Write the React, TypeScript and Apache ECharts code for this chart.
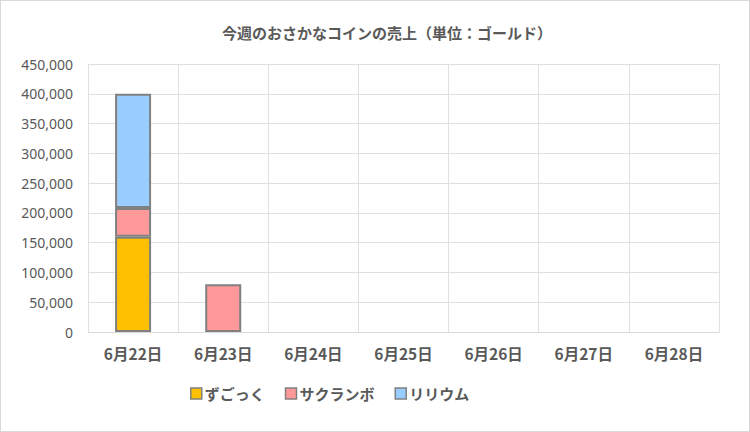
import React, { useEffect, useRef } from "react";
import * as echarts from "echarts";

const categories = ["6月22日", "6月23日", "6月24日", "6月25日", "6月26日", "6月27日", "6月28日"];
const zugokku = [160000, null, null, null, null, null, null];
const sakuranbo = [48000, 80000, null, null, null, null, null];
const ririumu = [192000, null, null, null, null, null, null];
const seriesNames = ["ずごっく", "サクランボ", "リリウム"];
const seriesColors = ["#FFC000", "#FF9999", "#99CCFF"];
const titleText = "今週のおさかなコインの売上（単位：ゴールド）";

const FONT = "'Noto Sans CJK JP', 'Noto Sans', sans-serif";

export default function App() {
  const ref = useRef<HTMLDivElement>(null);
  useEffect(() => {
    if (!ref.current) return;
    const chart = echarts.init(ref.current, null, { renderer: "svg" });
    const datas = [zugokku, sakuranbo, ririumu];
    chart.setOption({
      animation: false,
      backgroundColor: "#ffffff",
      title: {
        text: titleText,
        left: 216,
        top: 19,
        textStyle: { fontFamily: FONT, fontSize: 15, fontWeight: "bold", color: "#595959" },
      },
      legend: {
        left: 184,
        top: 380,
        itemWidth: 11,
        itemHeight: 11,
        itemGap: 20,
        icon: "rect",
        data: seriesNames,
        itemStyle: { borderColor: "#808080", borderWidth: 1.5 },
        textStyle: { fontFamily: FONT, fontSize: 15, fontWeight: "bold", color: "#595959", padding: [0, 0, 0, -2] },
      },
      grid: { left: 87, right: 30, top: 63, bottom: 99 },
      xAxis: {
        type: "category",
        data: categories,
        axisLine: { show: true, lineStyle: { color: "#d9d9d9" } },
        axisTick: { show: false },
        splitLine: { show: true, lineStyle: { color: "#e0e0e0" } },
        axisLabel: { fontFamily: FONT, fontSize: 15.5, fontWeight: "bold", color: "#595959", margin: 13 },
      },
      yAxis: {
        type: "value",
        min: 0,
        max: 450000,
        interval: 50000,
        axisLine: { show: false },
        axisTick: { show: false },
        splitLine: { lineStyle: { color: "#e0e0e0" } },
        axisLabel: {
          fontFamily: "'Noto Sans', sans-serif",
          fontSize: 14,
          color: "#595959",
          margin: 15,
          formatter: (v: number) => v.toLocaleString("en-US"),
        },
      },
      series: seriesNames.map((name, i) => ({
        name,
        type: "bar",
        stack: "total",
        barWidth: 36,
        data: datas[i],
        itemStyle: { color: seriesColors[i], borderColor: "#808080", borderWidth: 2 },
      })),
    });
    return () => chart.dispose();
  }, []);
  return (
    <div
      style={{
        position: "absolute",
        left: 0,
        top: 0,
        width: 750,
        height: 432,
        boxSizing: "border-box",
        border: "1px solid #d9d9d9",
        background: "#fff",
      }}
    >
      <div ref={ref} style={{ width: 748, height: 430 }} />
    </div>
  );
}
